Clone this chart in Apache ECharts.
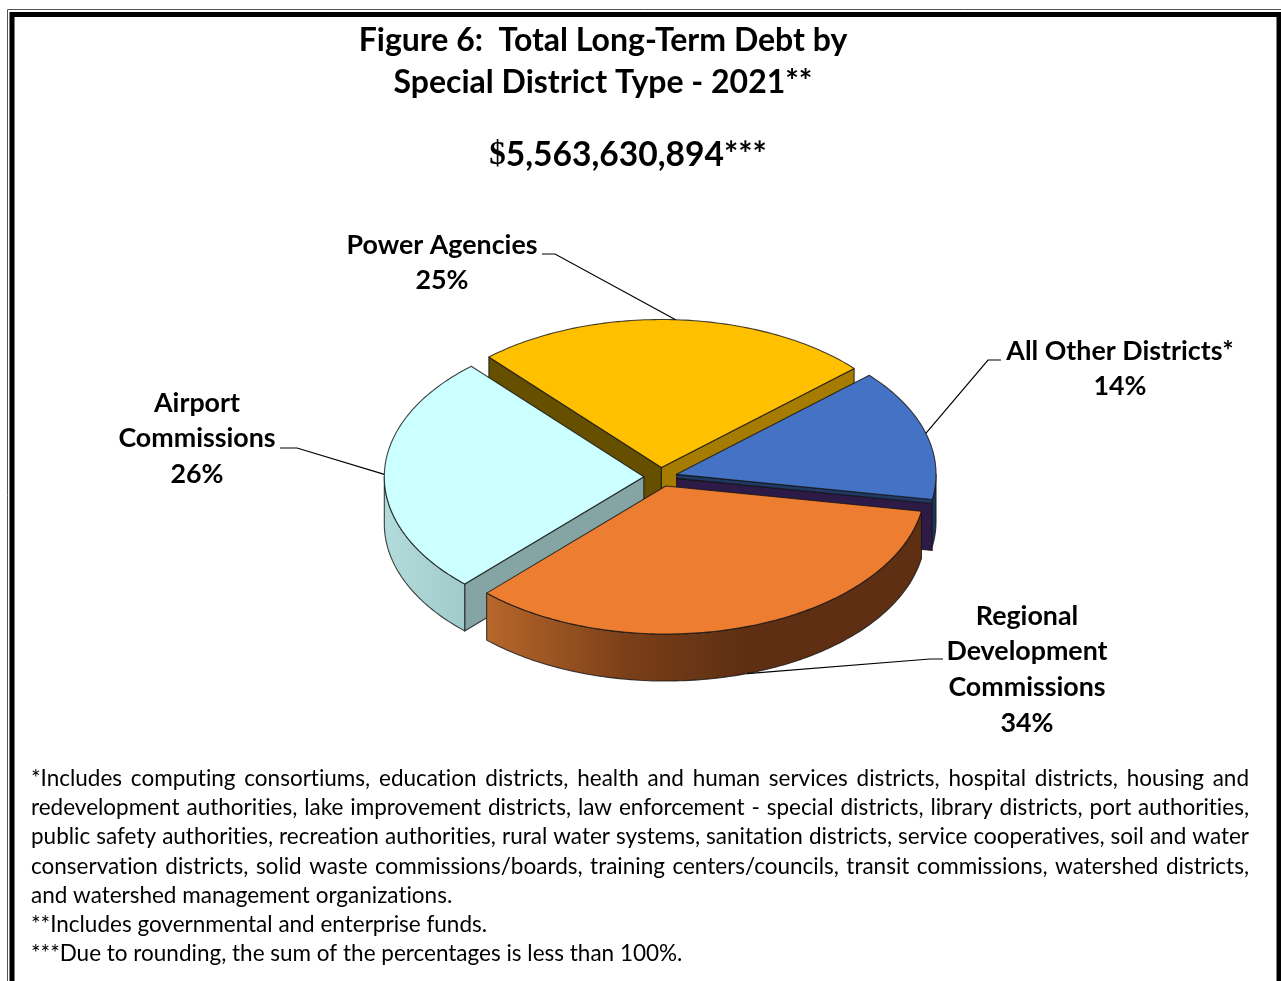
<!DOCTYPE html>
<html><head><meta charset="utf-8">
<style>html,body{margin:0;padding:0;background:#fff;overflow:hidden}#c{width:1281px;height:981px}</style>
<script src="https://cdn.jsdelivr.net/npm/echarts@6/dist/echarts.min.js"></script>
</head><body><div id="c"></div>
<script>
// ---- data (clockwise from the Regional Development slice)
const categories = ['Regional\nDevelopment\nCommissions', 'Airport\nCommissions', 'Power Agencies', 'All Other Districts*'];
const shares = [34.4, 26.3, 24.9, 14.4];   // labels show them rounded
const titleLines = 'Figure 6:  Total Long-Term Debt by\nSpecial District Type - 2021**';
const totalText = '5,563,630,894***';
const footnotes = [
 ['*Includes computing consortiums, education districts, health and human services districts, hospital districts, housing and', true],
 ['redevelopment authorities, lake improvement districts, law enforcement - special districts, library districts, port authorities,', true],
 ['public safety authorities, recreation authorities, rural water systems, sanitation districts, service cooperatives, soil and water', true],
 ['conservation districts, solid waste commissions/boards, training centers/councils, transit commissions, watershed districts,', true],
 ['and watershed management organizations.', false],
 ['**Includes governmental and enterprise funds.', false],
 ['***Due to rounding, the sum of the percentages is less than 100%.', false]
];
// ---- styles
const topColors = ['#ED7D31', '#CCFFFF', '#FFC000', '#4472C4'];
const startCutColors = [null, '#84A5A3', '#665000', null];
const endCutColors = [null, null, '#A67C00', '#1F3864'];
const wallStops = [
  [[0,'#B8672C'],[0.55,'#7A3F18'],[1,'#5E2F13']],
  [[0,'#B2DCDB'],[1,'#A0CBCA']],
  [[0,'#A67C00'],[1,'#A67C00']],
  [[0,'#1C3560'],[1,'#1C3560']]
];
const wallGradSpan = [[486,745],[386,465],[0,1281],[0,1281]];
const geom = {cx:660.5, cy:477, a:259.5, b:148, depth:47, ex:16.7, ey:9.5, start:9.8};
const labelFont = 'bold 26.8px Lato';
const labelLayout = [
  {x:1027, y:669.6, elbow:[930,659], end:[943,659], rim:true},
  {x:197, y:438.6, elbow:[297,448], end:[280,448]},
  {x:442, y:263, elbow:[555,254], end:[542,254]},
  {x:1120, y:369, elbow:[988,360], end:[1001,360]}
];
const EDGE = 'rgba(20,20,20,0.8)';
const total = shares.reduce((s,v)=>s+v,0);
const rad = d=>d*Math.PI/180;

// plain glyph shaping: no ligatures, closer to the reference face
const nativeFill = CanvasRenderingContext2D.prototype.fillText;
CanvasRenderingContext2D.prototype.fillText = function(){
  this.textRendering='optimizeSpeed';
  return nativeFill.apply(this,arguments);
};

function sliceAngles(i){
  let s = geom.start;
  for(let k=0;k<i;k++) s += shares[k]/total*360;
  return [s, s+shares[i]/total*360];
}
function renderItem(params, api){
  const i = params.dataIndex;
  const [s,e] = sliceAngles(i), mid=(s+e)/2;
  const ax = geom.cx+geom.ex*Math.cos(rad(mid)), ay = geom.cy+geom.ey*Math.sin(rad(mid));
  const pt = (t,dy=0)=>[ax+geom.a*Math.cos(rad(t)), ay+geom.b*Math.sin(rad(t))+dy];
  const rank = Math.round((Math.sin(rad(mid))+1)*100)*10;
  const kids=[]; let z=rank;
  const poly=(points,fill)=>kids.push({type:'polygon',z2:z++,shape:{points},style:{fill,stroke:EDGE,lineWidth:1.1,lineJoin:'round'}});
  // cut faces
  const cut=(t,color,dy0,dy1)=>poly([[ax,ay+dy0],pt(t,dy0),pt(t,dy1),[ax,ay+dy1]],color);
  if(Math.cos(rad(s))<0 && startCutColors[i]) cut(s,startCutColors[i],0,geom.depth);
  if(Math.cos(rad(e))>0 && endCutColors[i]){
    if(i===3){ cut(e,'#2E1A47',4,geom.depth+4); cut(e,endCutColors[i],0,4); }
    else cut(e,endCutColors[i],0,geom.depth);
  }
  // outer wall on the front half of the ellipse
  [[0,180],[360,540]].forEach(([lo,hi])=>{
    const a0=Math.max(s,lo), a1=Math.min(e,hi);
    if(a1>a0){
      const t=[],b=[];
      for(let d=a0;d<a1;d+=1){t.push(pt(d));b.unshift(pt(d,geom.depth));}
      t.push(pt(a1));b.unshift(pt(a1,geom.depth));
      poly(t.concat(b),new echarts.graphic.LinearGradient(wallGradSpan[i][0],0,wallGradSpan[i][1],0,
        wallStops[i].map(q=>({offset:q[0],color:q[1]})),true));
    }
  });
  // top face
  const top=[[ax,ay]];
  for(let d=s;d<e;d+=1) top.push(pt(d));
  top.push(pt(e));
  poly(top,topColors[i]);
  // leader and label
  const L=labelLayout[i];
  const anchor=pt(mid,L.rim?geom.depth:0);
  kids.push({type:'polyline',z2:5000,shape:{points:[anchor,L.elbow,L.end]},style:{fill:null,stroke:'#000',lineWidth:1.2}});
  kids.push({type:'text',z2:5001,style:{text:api.value(1)+'\n'+Math.round(api.value(0))+'%',x:L.x,y:L.y,align:'center',verticalAlign:'middle',
     font:labelFont,lineHeight:35.6,fill:'#000'}});
  return {type:'group',children:kids};
}
const seriesData = categories.map((c,i)=>[shares[i],c]);

// footnotes, justified word by word
const FOOT_FONT='22.5px Lato', FOOT_L=31, FOOT_R=1249, FOOT_Y0=778.7, FOOT_DY=29.2;
const mctx=document.createElement('canvas').getContext('2d'); mctx.font=FOOT_FONT; mctx.textRendering='optimizeSpeed';
const footEls=[];
footnotes.forEach(([line,just],r)=>{
  if(!just){
    footEls.push({type:'text',x:FOOT_L,y:FOOT_Y0+r*FOOT_DY,style:{text:line,font:FOOT_FONT,fill:'#000',verticalAlign:'middle'}});
    return;
  }
  const words=line.split(' ');
  const w=words.map(t=>mctx.measureText(t).width), sum=w.reduce((a,b)=>a+b,0);
  const gap=(FOOT_R-FOOT_L-sum)/(words.length-1);
  let x=FOOT_L;
  words.forEach((t,k)=>{
    footEls.push({type:'text',x:x,y:FOOT_Y0+r*FOOT_DY,style:{text:t,font:FOOT_FONT,fill:'#000',verticalAlign:'middle'}});
    x+=w[k]+gap;
  });
});

const chart=echarts.init(document.getElementById('c'),null,{renderer:'canvas',width:1281,height:981});
chart.setOption({
  animation:false,
  backgroundColor:'#fff',
  title:{left:598,top:15,textAlign:'center',text:titleLines,
    textStyle:{fontFamily:'Lato',fontSize:32,fontWeight:'bold',lineHeight:42,color:'#000'}},
  graphic:[
    {type:'rect',shape:{x:7.5,y:9.5,width:1290,height:1000},style:{fill:null,stroke:'#555',lineWidth:1}},
    {type:'rect',shape:{x:12,y:14.5,width:1267,height:1000},style:{fill:null,stroke:'#000',lineWidth:5}},
    {type:'text',x:628,y:155,style:{align:'center',verticalAlign:'middle',text:'{d|$}{n|'+totalText+'}',
      rich:{d:{fontFamily:'Liberation Serif',fontWeight:'bold',fontSize:33,fill:'#000',color:'#000'},
            n:{fontFamily:'Lato',fontWeight:'bold',fontSize:33.6,fill:'#000',color:'#000'}}}},
    ...footEls
  ],
  series:[{type:'custom',coordinateSystem:'none',renderItem,data:seriesData,
    encode:{value:0},silent:true,clip:false}]
});
</script></body></html>
